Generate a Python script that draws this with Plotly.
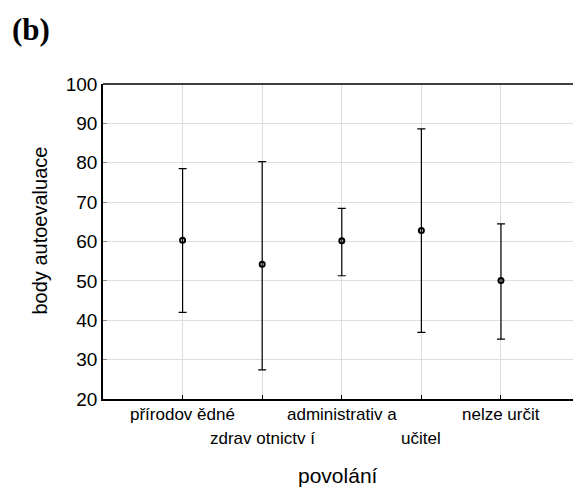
import plotly.graph_objects as go

categories = ["přírodov ědné", "zdrav otnictv í", "administrativ a", "učitel", "nelze určit"]
positions = [1, 2, 3, 4, 5]
means = [60.3, 54.2, 60.2, 62.8, 50.1]
upper = [78.5, 80.3, 68.4, 88.6, 64.5]
lower = [42.0, 27.4, 51.3, 36.9, 35.2]
label_row = [0, 1, 0, 1, 0]
y_ticks = [20, 30, 40, 50, 60, 70, 80, 90, 100]

err_plus = [u - m for u, m in zip(upper, means)]
err_minus = [m - l for m, l in zip(means, lower)]

fig = go.Figure()
fig.add_trace(go.Scatter(
    x=positions, y=means, mode="markers",
    marker=dict(symbol="circle-open", size=5, color="black", line=dict(width=2, color="black")),
    error_y=dict(type="data", symmetric=False, array=err_plus, arrayminus=err_minus,
                 color="black", thickness=1.2, width=4),
    showlegend=False,
))

font_main = "Liberation Sans, Arial, sans-serif"

fig.update_layout(
    width=573, height=487,
    margin=dict(l=103, r=0, t=84, b=88),
    paper_bgcolor="white", plot_bgcolor="white",
    xaxis=dict(range=[0, 5.905], tickvals=positions, ticktext=["" for _ in positions],
               showgrid=True, gridcolor="#dddddd", gridwidth=1,
               showline=True, linecolor="black", linewidth=1.5,
               ticks="inside", ticklen=4, tickcolor="black", zeroline=False),
    yaxis=dict(range=[20, 100], tickvals=y_ticks, showgrid=True, gridcolor="#dddddd", gridwidth=1,
               showline=True, linecolor="black", linewidth=1.5,
               ticks="inside", ticklen=4, tickcolor="#888888", zeroline=False,
               tickfont=dict(family=font_main, size=19, color="black")),
    font=dict(family=font_main, color="black"),
)

# top border
fig.add_shape(type="line", xref="paper", yref="paper", x0=0, x1=1, y0=1, y1=1,
              line=dict(color="black", width=1.5))

# category labels in two staggered rows
for p, c, r in zip(positions, categories, label_row):
    fig.add_annotation(x=p, xref="x", y=0, yref="paper", text=c, showarrow=False,
                       yanchor="middle", yshift=-15 - 24 * r,
                       font=dict(family=font_main, size=17, color="black"))

fig.add_annotation(x=0.5, xref="paper", y=0, yref="paper", text="povolání", showarrow=False,
                   yanchor="middle", yshift=-76, font=dict(family=font_main, size=21, color="black"))
fig.add_annotation(x=0, xref="paper", y=0.5, yref="paper", text="body autoevaluace", showarrow=False,
                   textangle=-90, xanchor="center", yanchor="middle", xshift=-64, yshift=11,
                   font=dict(family=font_main, size=20, color="black"))
fig.add_annotation(x=0, xref="paper", y=1, yref="paper", text="<b>(b)</b>", showarrow=False,
                   xanchor="left", yanchor="middle", xshift=-93, yshift=55,
                   font=dict(family="Liberation Serif, Times New Roman, serif", size=31, color="black"))

fig.write_html("out.html")
